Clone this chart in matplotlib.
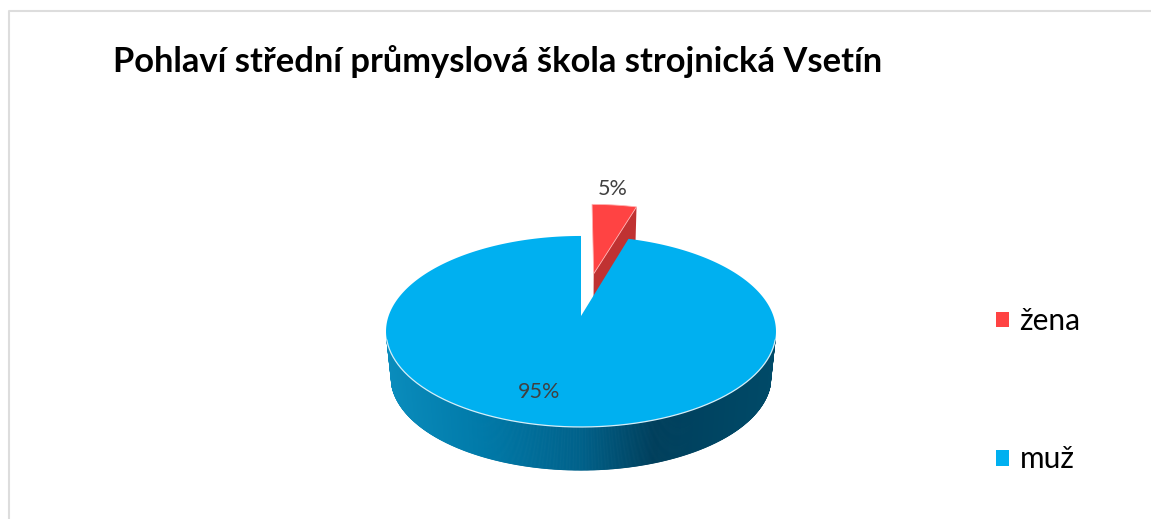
import numpy as np
import matplotlib
matplotlib.use("Agg")
import matplotlib.pyplot as plt
from matplotlib.colors import LinearSegmentedColormap
from matplotlib.patches import Patch
from matplotlib.collections import PolyCollection

title = "Pohlaví střední průmyslová škola strojnická Vsetín"
labels = ["žena", "muž"]
values = [4.6, 95.4]
colors = ["#FF4343", "#00B0F0"]

# pie drawn in pixel space, perspective is a simple 1/w divide
cx = 581
top_y0, top_r, top_b = 316, 192.4, 93
bot_y0, bot_r, bot_b = 362, 187.5, 90.6
k = 0.162
explode = 0.495


def project(a, r0, y0, b, off_u=0.0, off_v=0.0, radius=1.0):
    # angle in radians clockwise from the back of the pie
    u = radius * np.sin(a) + off_u
    v = radius * np.cos(a) + off_v
    w = 1 + k * v
    return cx + r0 * u / w, y0 - b * v / w


fig = plt.figure(figsize=(11.51, 5.19), dpi=100)
ax = fig.add_axes([0, 0, 1, 1])
ax.set_xlim(0, 1151)
ax.set_ylim(519, 0)
ax.axis("off")

# grey frame of the chart area
ax.plot([9.5, 9.5, 1151], [519, 10.5, 10.5], color="#DDDDDD", lw=1.5, zorder=1)

cut = 2 * np.pi * values[0] / sum(values)

# red slice, pulled out along its bisector
mid = cut / 2
ou, ov = explode * np.sin(mid), explode * np.cos(mid)
arc = np.linspace(0, cut, 30)
ax_, ay_ = project(arc, top_r, top_y0, top_b, ou, ov)
ap = project(0.0, top_r, top_y0, top_b, ou, ov, radius=0.0)
cx_b, cy_b = project(cut, bot_r, bot_y0, bot_b, ou, ov)
ap_b = project(0.0, bot_r, bot_y0, bot_b, ou, ov, radius=0.0)
ax.fill([ap[0], ax_[-1], cx_b, ap_b[0]], [ap[1], ay_[-1], cy_b, ap_b[1]],
        color="#C03232", lw=0, zorder=2)
ax.fill(np.r_[ap[0], ax_], np.r_[ap[1], ay_], facecolor=colors[0],
        edgecolor="#FFB0B0", lw=0.6, zorder=3)

# side wall of the blue slice, shaded by screen x
wall = LinearSegmentedColormap.from_list(
    "wall", [(0.0, "#0A8CBC"), (0.25, "#0079A8"), (0.5, "#00618A"),
             (0.69, "#003F5C"), (1.0, "#004A68")])
ang = np.linspace(np.pi * 0.58, np.pi * 1.42, 500)
tx, ty = project(ang, top_r, top_y0, top_b)
bx, by = project(ang, bot_r, bot_y0, bot_b)
quads = [[(tx[i], ty[i]), (tx[i + 1], ty[i + 1]), (bx[i + 1], by[i + 1]), (bx[i], by[i])]
         for i in range(len(ang) - 1)]
shade = wall(np.clip((bx[:-1] - 391) / 380, 0, 1))
ax.add_collection(PolyCollection(quads, facecolors=shade, edgecolors=shade, linewidths=0.6, zorder=4))
# ends of the wall, rim point down to the widest part of the lower edge
ang2 = np.linspace(np.pi * 0.45, np.pi * 0.58, 40)
for a_set, col in [(ang2, "#004A68"), (2 * np.pi - ang2, "#0A8CBC")]:
    x1, y1 = project(a_set[-1], top_r, top_y0, top_b)
    x2, y2 = project(a_set, bot_r, bot_y0, bot_b)
    ax.fill(np.r_[x1, x2], np.r_[y1, y2], color=col, lw=0, zorder=3.5)

# blue top
arc2 = np.linspace(cut, 2 * np.pi, 400)
bx_, by_ = project(arc2, top_r, top_y0, top_b)
ax.fill(np.r_[cx, bx_], np.r_[top_y0, by_], facecolor=colors[1], lw=0, zorder=5)
ax.plot(*project(np.linspace(np.pi * 0.58, np.pi * 1.42, 200), top_r, top_y0, top_b),
        color="#D5EEF8", lw=0.9, zorder=6)

# data labels
pct = [f"{v / sum(values) * 100:.0f}%" for v in values]
ax.text(613, 189, pct[0], family="Lato", fontsize=15.5, color="#404040",
        ha="center", va="center", zorder=7)
ax.text(539, 392, pct[1], family="Lato", fontsize=15.5, color="#404040",
        ha="center", va="center", zorder=7)

ax.text(113, 72, title, family="Lato", weight="bold", fontsize=24.8,
        color="black", ha="left", va="baseline", zorder=7)

handles = [Patch(facecolor=c, edgecolor="none") for c in colors]
leg = ax.legend(handles, labels, loc="upper left", bbox_to_anchor=(996 / 1151, 1 - 307 / 519),
                frameon=False, prop={"family": "Lato", "size": 21.5},
                handlelength=0.42, handleheight=0.42, handletextpad=0.37,
                labelspacing=3.7, borderpad=0, borderaxespad=0)

fig.savefig("out.png", dpi=100)
